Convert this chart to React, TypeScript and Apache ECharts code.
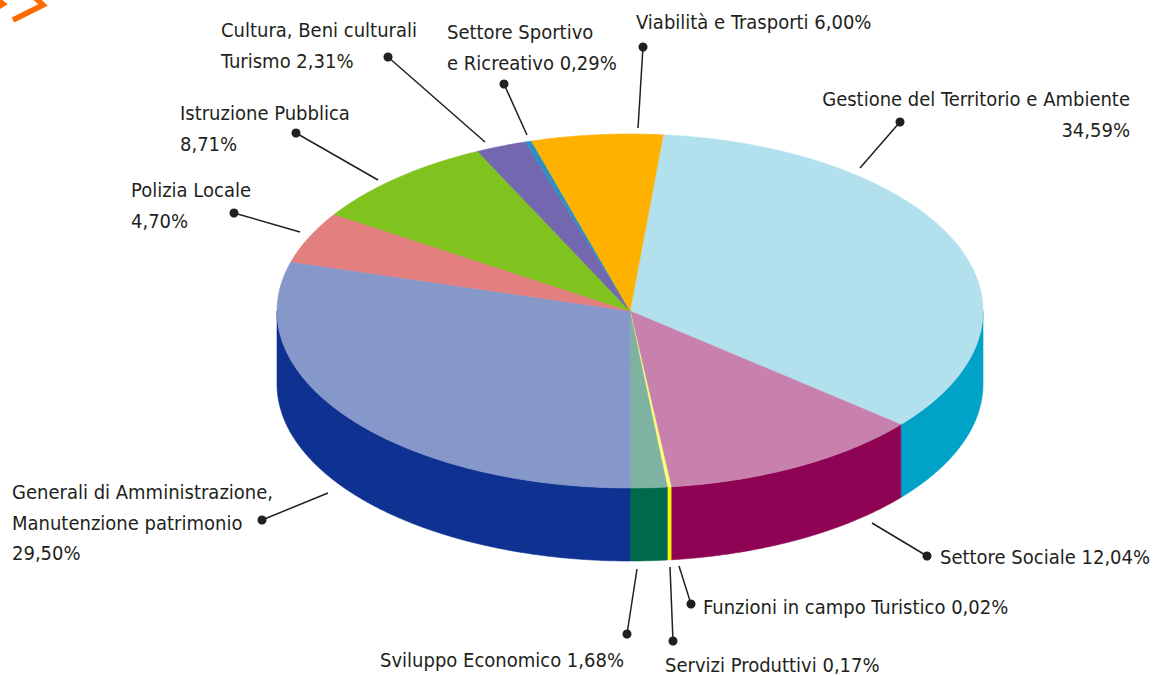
import React, { useEffect, useRef } from "react";
import * as echarts from "echarts";

// ---- data (clockwise order starting at the top) ----
const categories = [
  "Gestione del Territorio e Ambiente",
  "Settore Sociale",
  "Funzioni in campo Turistico",
  "Servizi Produttivi",
  "Sviluppo Economico",
  "Generali di Amministrazione,\nManutenzione patrimonio",
  "Polizia Locale",
  "Istruzione Pubblica",
  "Cultura, Beni culturali\nTurismo",
  "Settore Sportivo\ne Ricreativo",
  "Viabilità e Trasporti",
];
const values = [34.59, 12.04, 0.02, 0.17, 1.68, 29.5, 4.7, 8.71, 2.31, 0.29, 6.0];
const topColors = [
  "#b3e0ed", "#c881ad", "#b8a8a8", "#ffff7a", "#80b2a2",
  "#8697c9", "#e47f80", "#81c31e", "#7367b0", "#2f8fc4", "#ffb100",
];
const sideColors = [
  "#00a2c8", "#8e0354", "#4f4a3c", "#fff000", "#00694c",
  "#0f3192", "#b04a4c", "#4d8a10", "#463a80", "#14608f", "#c07c00",
];

// ---- layout (annotation placement, not data) ----
const PIE = { cx: 630, cy: 311, rx: 353, ry: 177, depth: 73, start: -84.6 };
// percentage on a new line?
const pctNewLine = [true, false, false, false, false, true, true, true, false, false, false];
const labelLayout = [
  { tx: 1130, ty: 99, align: "right", dot: [900, 122], end: [860, 168] },
  { tx: 940, ty: 557, align: "left", dot: [927, 556], end: [872, 523] },
  { tx: 703, ty: 607, align: "left", dot: [691, 604], end: [679, 566] },
  { tx: 665, ty: 665, align: "left", dot: [673, 641], end: [670, 567] },
  { tx: 380, ty: 660, align: "left", dot: [627, 634], end: [637, 569] },
  { tx: 12, ty: 492, align: "left", dot: [262, 520], end: [328, 493] },
  { tx: 131, ty: 190, align: "left", dot: [234, 213], end: [300, 232] },
  { tx: 180, ty: 113, align: "left", dot: [296, 133], end: [378, 180] },
  { tx: 221, ty: 30, align: "left", dot: [388, 57], end: [485, 142] },
  { tx: 447, ty: 32, align: "left", dot: [504, 84], end: [527, 135] },
  { tx: 636, ty: 22, align: "left", dot: [643, 47], end: [638, 128] },
];

const FONT = '"Liberation Sans Narrow", "DejaVu Sans Condensed", "Arial Narrow", sans-serif';
const FONT_SIZE = 20;
const LINE_H = 30.5;

const fmt = (v: number) => v.toFixed(2).replace(".", ",") + "%";

function ellPt(t: number, dy = 0) {
  return [PIE.cx + PIE.rx * Math.cos(t), PIE.cy + PIE.ry * Math.sin(t) + dy];
}

function arcPts(a: number, b: number, dy = 0) {
  const pts: number[][] = [];
  const step = Math.PI / 720;
  const n = Math.max(1, Math.ceil((b - a) / step));
  for (let i = 0; i <= n; i++) pts.push(ellPt(a + ((b - a) * i) / n, dy));
  return pts;
}

export default function App() {
  const ref = useRef<HTMLDivElement>(null);
  useEffect(() => {
    document.body.style.margin = "0";
    const chart = echarts.init(ref.current!, null, { renderer: "svg" });
    const total = values.reduce((s, v) => s + v, 0);
    const cum: number[] = [];
    let acc = 0;
    values.forEach((v) => {
      cum.push(acc);
      acc += v;
    });
    const startRad = (PIE.start * Math.PI) / 180;

    const renderItem = (params: any, api: any) => {
      const i = params.dataIndex;
      const v = api.value(0);
      const a = startRad + (cum[i] / total) * Math.PI * 2;
      const b = a + (v / total) * Math.PI * 2;
      const children: any[] = [];
      const ranges = [
        [0, Math.PI],
        [2 * Math.PI, 3 * Math.PI],
      ];
      ranges.forEach(([lo, hi]) => {
        const s = Math.max(a, lo);
        const e = Math.min(b, hi);
        if (e > s) {
          const top = arcPts(s, e, 0);
          const bot = arcPts(s, e, PIE.depth).reverse();
          children.push({
            type: "polygon",
            shape: { points: top.concat(bot) },
            style: { fill: sideColors[i], stroke: sideColors[i], lineWidth: 0.6 },
          });
        }
      });
      const topPts = [[PIE.cx, PIE.cy]].concat(arcPts(a, b, 0));
      children.push({
        type: "polygon",
        shape: { points: topPts },
        style: { fill: topColors[i], stroke: topColors[i], lineWidth: 0.6 },
      });
      return { type: "group", children };
    };

    const graphics: any[] = [];
    graphics.push({
      type: "polyline",
      shape: { points: [[27, -10], [43, 5], [13, 20]] },
      style: { stroke: "#ff6a00", lineWidth: 5.5, fill: null },
    });
    graphics.push({
      type: "polyline",
      shape: { points: [[-14, -10], [3, 4], [-10, 12]] },
      style: { stroke: "#ff6a00", lineWidth: 5.5, fill: null },
    });
    categories.forEach((name, i) => {
      const L = labelLayout[i];
      const text = name + (pctNewLine[i] ? "\n" : " ") + fmt(values[i]);
      graphics.push({
        type: "line",
        shape: { x1: L.dot[0], y1: L.dot[1], x2: L.end[0], y2: L.end[1] },
        style: { stroke: "#231f20", lineWidth: 1.5 },
        z: 10,
      });
      graphics.push({
        type: "circle",
        shape: { cx: L.dot[0], cy: L.dot[1], r: 4.5 },
        style: { fill: "#231f20" },
        z: 10,
      });
      graphics.push({
        type: "text",
        x: L.tx,
        y: L.ty - LINE_H / 2,
        style: {
          text,
          fill: "#231f20",
          fontSize: FONT_SIZE,
          fontFamily: FONT,
          lineHeight: LINE_H,
          align: L.align,
          verticalAlign: "top",
        },
        z: 10,
      });
    });

    chart.setOption({
      animation: false,
      backgroundColor: "#ffffff",
      series: [
        {
          type: "custom",
          coordinateSystem: "none",
          renderItem,
          data: values.map((v, i) => [v, i]),
          silent: true,
        },
      ],
      graphic: graphics,
    });
    return () => chart.dispose();
  }, []);
  return <div ref={ref} style={{ width: 1155, height: 676 }} />;
}
